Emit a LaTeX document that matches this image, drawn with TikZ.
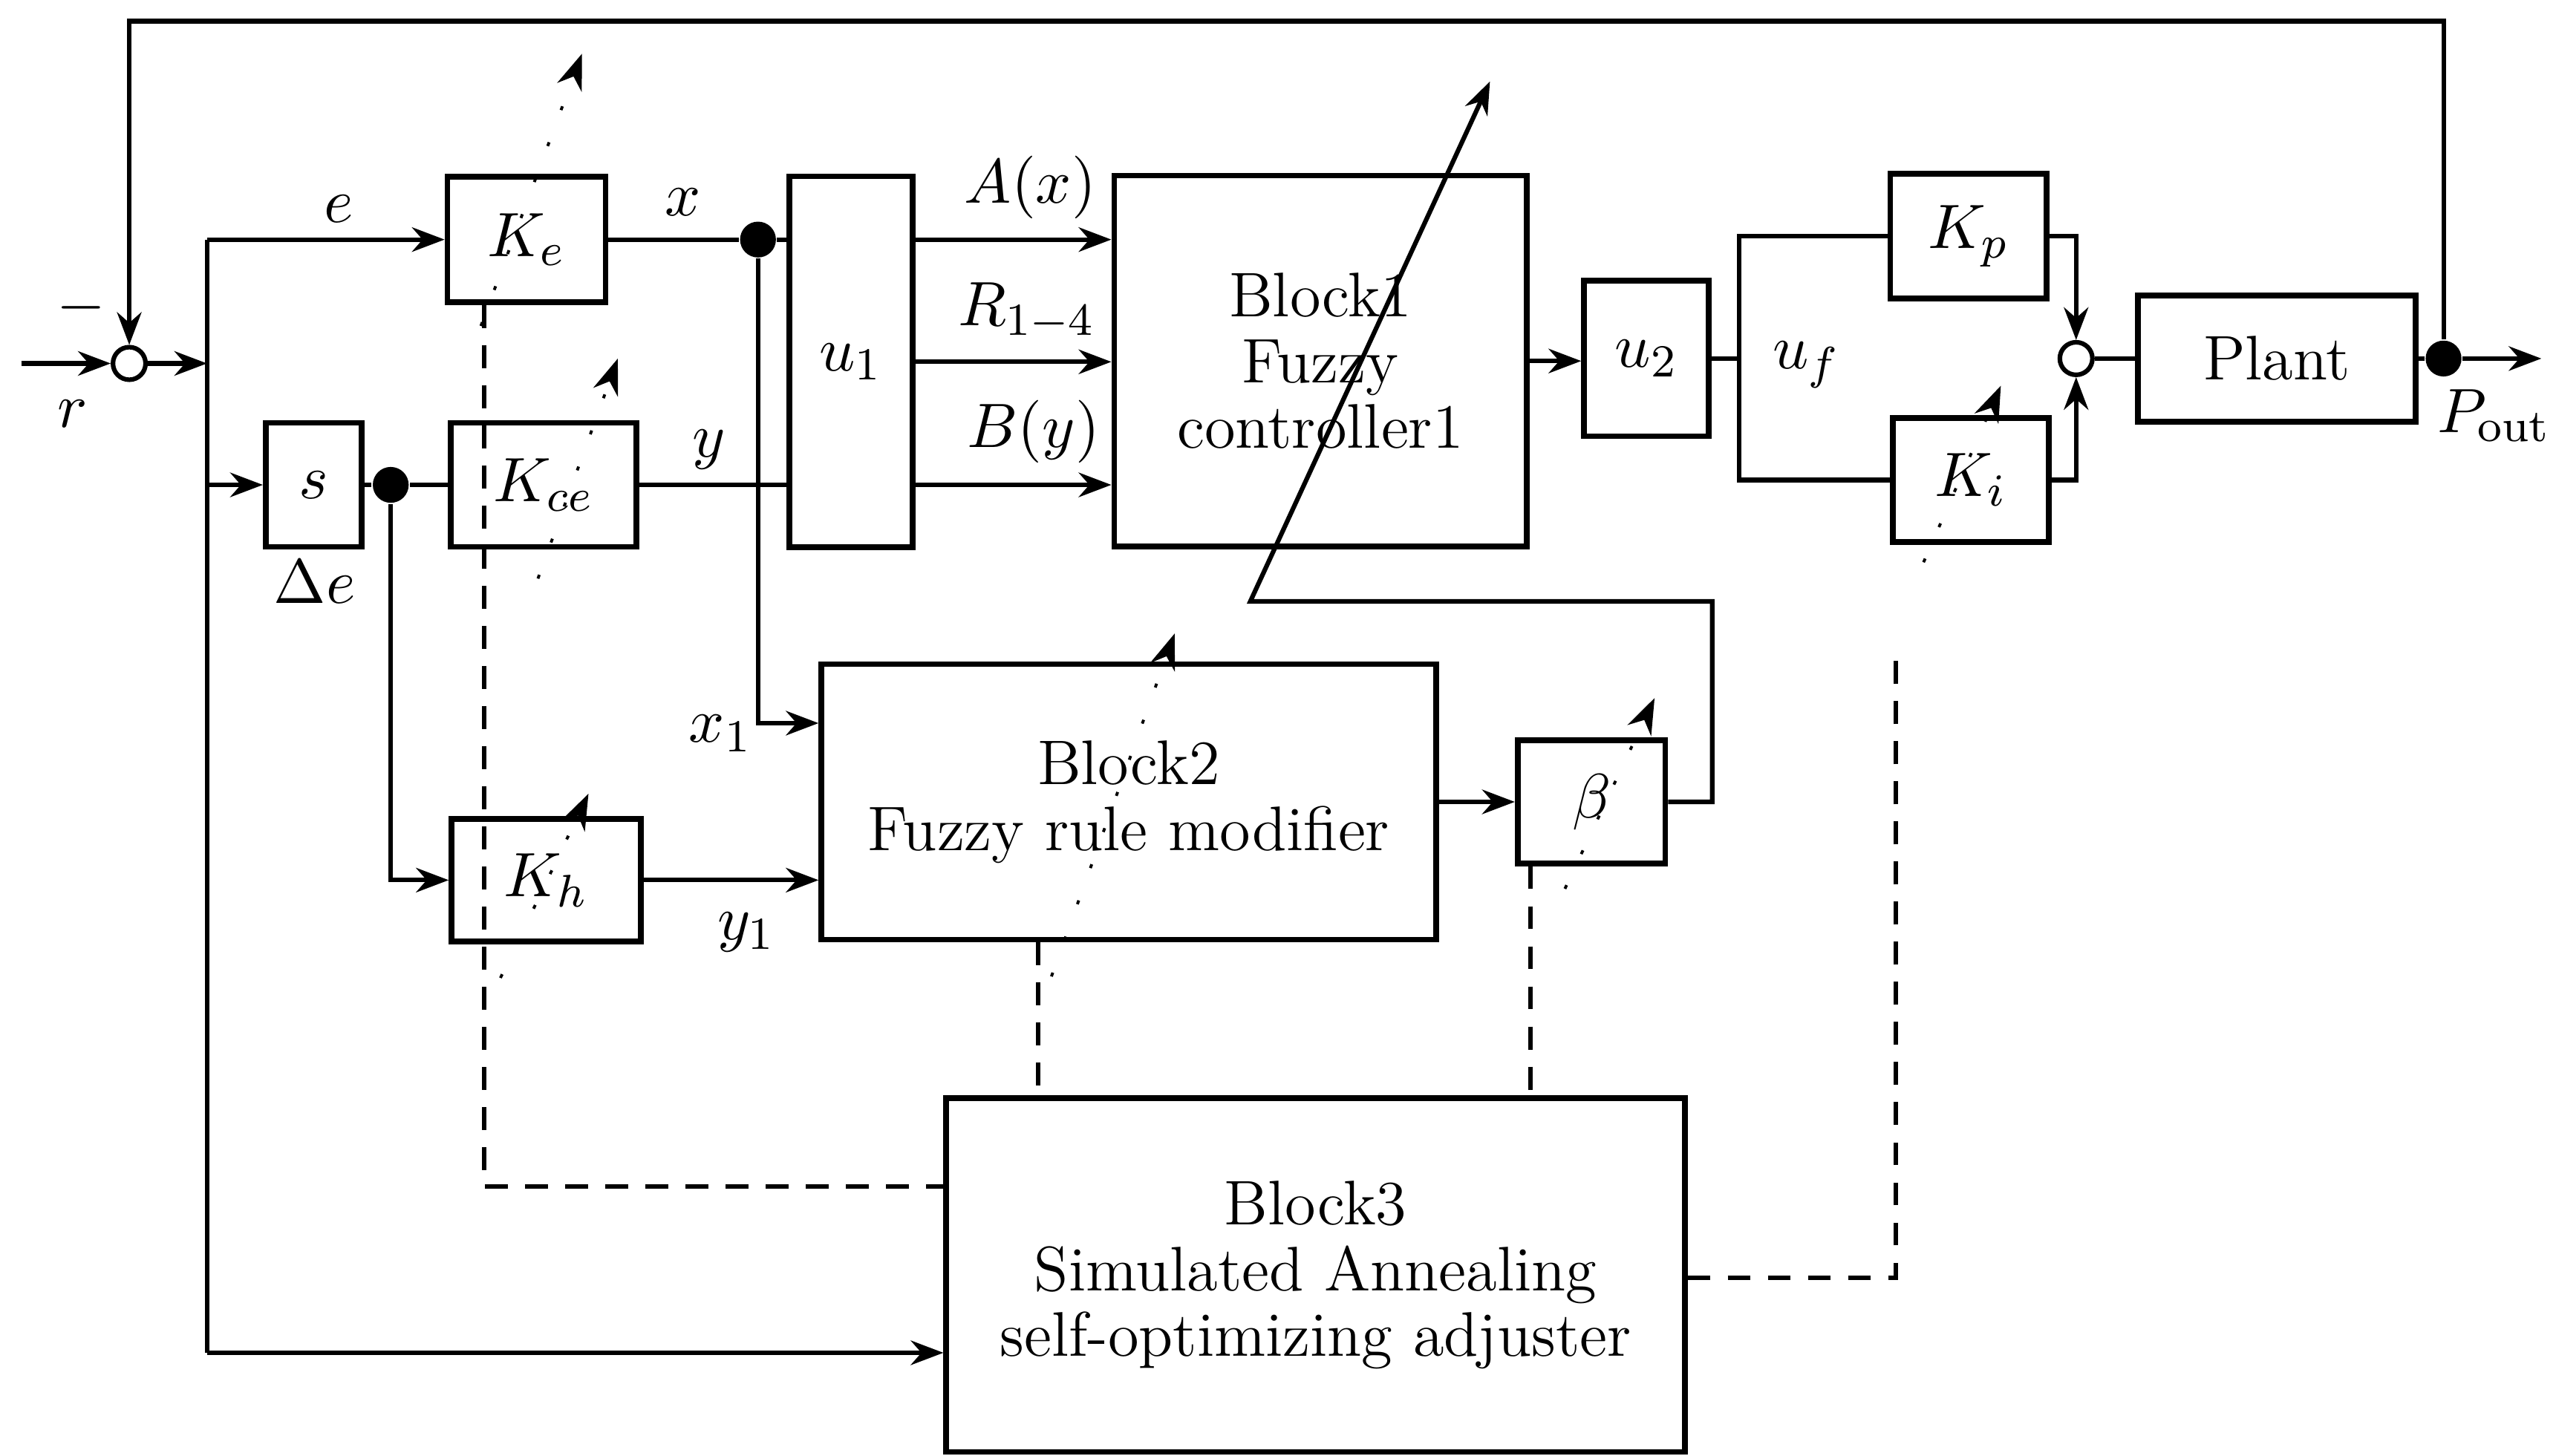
\documentclass[tikz,border=0pt]{standalone}
\usepackage{amsmath}
\usetikzlibrary{arrows.meta, calc}

\begin{document}
\begin{tikzpicture}[font=\fontsize{11}{11.5}\selectfont,
    blk/.style={draw, line width=1pt, inner sep=0pt, align=center},
    wire/.style={line width=0.8pt},
    sig/.style={wire, -{Stealth[length=2mm, width=1.5mm]}},
    ctrl/.style={line width=0.8pt, dash pattern=on 4pt off 3pt},
    tune/.style={line width=0.5pt, dash pattern=on 0.7pt off 6pt, -{Stealth[length=2.2mm, width=1.6mm]}},
    jct/.style={circle, draw, line width=0.8pt, fill=white, inner sep=0pt, minimum size=2mm},
    dot/.style={circle, fill, inner sep=0pt, minimum size=2.2mm}]

  \useasboundingbox (0,0) rectangle (15.68,-8.93);

  % gains and blocks
  \node[blk, minimum width=0.97cm, minimum height=0.77cm] (Ke) at (3.23,-1.47) {$K_e$};
  \node[blk, minimum width=0.59cm, minimum height=0.76cm] (s) at (1.925,-2.975) {$s$};
  \node[blk, minimum width=1.14cm, minimum height=0.76cm] (Kce) at (3.335,-2.975) {$K_{ce}$};
  \node[blk, minimum width=1.16cm, minimum height=0.75cm] (Kh) at (3.35,-5.40) {$K_h$};
  \node[blk, minimum width=0.755cm, minimum height=2.275cm] (u1) at (5.22,-2.22) {$u_1$};
  \node[blk, minimum width=2.53cm, minimum height=2.275cm] (B1) at (8.10,-2.215)
    {Block1\\Fuzzy\\controller1};
  \node[blk, minimum width=3.77cm, minimum height=1.69cm] (B2) at (6.924,-4.92)
    {Block2\\Fuzzy rule modifier};
  \node[blk, minimum width=0.906cm, minimum height=0.754cm] (beta) at (9.763,-4.92) {$\beta$};
  \node[blk, minimum width=4.53cm, minimum height=2.17cm] (B3) at (8.07,-7.823)
    {Block3\\Simulated Annealing\\self-optimizing adjuster};
  \node[blk, minimum width=0.765cm, minimum height=0.954cm] (u2) at (10.10,-2.20) {$u_2$};
  \node[blk, minimum width=0.958cm, minimum height=0.763cm] (Kp) at (12.075,-1.449) {$K_p$};
  \node[blk, minimum width=0.954cm, minimum height=0.763cm] (Ki) at (12.09,-2.945) {$K_i$};
  \node[blk, minimum width=1.705cm, minimum height=0.772cm] (Plant) at (13.966,-2.20) {Plant};

  % junctions
  \node[jct] (S1) at (0.793,-2.23) {};
  \node[jct] (S2) at (12.736,-2.20) {};
  \node[dot] (dx) at (4.65,-1.47) {};
  \node[dot] (dde) at (2.397,-2.975) {};
  \node[dot] (dout) at (14.99,-2.20) {};

  \coordinate (in) at (0.13,-2.23);
  \coordinate (out) at (15.59,-2.20);
  \coordinate (bus) at (1.27,-1.47);
  \coordinate (busb) at (1.27,-8.30);
  \coordinate (uf) at (10.67,-2.20);
  \coordinate (dk) at (2.97,-7.28);
  \coordinate (db2) at (6.37,0);
  \coordinate (dbe) at (9.39,0);
  \coordinate (dki) at (11.63,-7.84);
  \coordinate (kiend) at (11.63,-3.98);
  \coordinate (bt) at (7.67,-3.69);
  \coordinate (btip) at (9.14,-0.50);

  % signal lines
  \draw[sig] (in) -- (S1.west);
  \draw[sig] (S1.east) -- (S1.east -| bus);
  \draw[wire] (bus) -- (busb);
  \draw[sig] (bus) -- (Ke.west);
  \draw[sig] (s.west -| bus) -- (s.west);
  \draw[sig] (busb) -- (busb -| B3.west);
  \draw[wire] (Ke.east) -- (dx) -- (dx -| u1.west);
  \draw[sig] (dx) |- ($(B2.north west)!0.22!(B2.south west)$);
  \draw[wire] (s.east) -- (dde) -- (Kce.west);
  \draw[sig] (dde) |- (Kh.west);
  \draw[wire] (Kce.east) -- (Kce.east -| u1.west);
  \draw[sig] (Kh.east) -- (Kh.east -| B2.west);
  \draw[sig] (u1.east |- dx) -- (B1.west |- dx);
  \draw[sig] (u1.east) -- (B1.west |- u1.east);
  \draw[sig] (u1.east |- Kce) -- (B1.west |- Kce);
  \draw[sig] (B1.east) -- (u2.west |- B1.east);
  \draw[sig] (B2.east) -- (beta.west);
  \draw[sig] (beta.east) -- ++(0.27,0) |- (bt) -- (btip);
  \draw[wire] (u2.east) -- (uf);
  \draw[wire] (Kp.west) -| (uf) |- (Ki.west);
  \draw[sig] (Kp.east) -| (S2.north);
  \draw[sig] (Ki.east) -| (S2.south);
  \draw[wire] (S2.east) -- (Plant.west);
  \draw[wire] (Plant.east) -- (dout);
  \draw[sig] (dout) -- (out);
  \draw[sig] (dout) -- ++(0,2.07) -| (S1.north);

  % adjuster links
  \draw[ctrl] (Ke.south -| dk) -- (dk) -- (dk -| B3.west);
  \draw[ctrl] (B2.south -| db2) -- (B3.north -| db2);
  \draw[ctrl] (beta.south -| dbe) -- (B3.north -| dbe);
  \draw[ctrl] (B3.east |- dki) -- (dki) -- (kiend);

  % tuned parameters
  \draw[tune] ($(Ke)+(-0.28,-0.53)$) -- ++(0.62,1.67);
  \draw[tune] ($(Kce)+(-0.035,-0.575)$) -- ++(0.49,1.35);
  \draw[tune] ($(Kh)+(-0.28,-0.60)$) -- ++(0.54,1.13);
  \draw[tune] ($(Ki)+(-0.29,-0.505)$) -- ++(0.474,1.083);
  \draw[tune] ($(beta)+(-0.163,-0.533)$) -- ++(0.55,1.17);
  \draw[tune] ($(B2)+(-0.474,-1.071)$) -- ++(0.756,2.104);

  % labels
  \node (lminus) at (0.50,-1.89) {$-$};
  \node (lr) at (0.447,-2.54) {$r$};
  \node (le) at (2.08,-1.28) {$e$};
  \node (lx) at (4.19,-1.24) {$x$};
  \node (ly) at (4.35,-2.76) {$y$};
  \node (lde) at (1.93,-3.57) {$\Delta e$};
  \node (lx1) at (4.42,-4.50) {$x_1$};
  \node (ly1) at (4.58,-5.72) {$y_1$};
  \node (lA) at (6.32,-1.15) {$A(x)$};
  \node (lR) at (6.30,-1.91) {$R_{1-4}$};
  \node (lB) at (6.34,-2.65) {$B(y)$};
  \node (luf) at (11.08,-2.24) {$u_f$};
  \node (lP) at (15.30,-2.55) {$P_{\mathrm{out}}$};
\end{tikzpicture}
\end{document}
